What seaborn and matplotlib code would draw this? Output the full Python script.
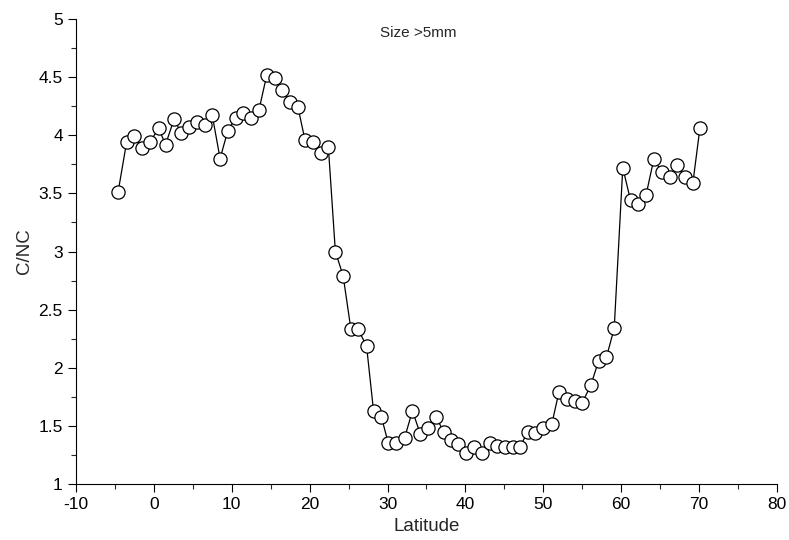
import numpy as np
import pandas as pd
import seaborn as sns
import matplotlib.pyplot as plt
from matplotlib.ticker import MultipleLocator

# latitude and C/NC ratio
latitude = [-4.6, -3.5, -2.5, -1.5, -0.5, 0.6, 1.5, 2.6, 3.5, 4.5,
            5.5, 6.5, 7.5, 8.5, 9.5, 10.5, 11.5, 12.5, 13.5, 14.5,
            15.5, 16.4, 17.5, 18.5, 19.4, 20.4, 21.4, 22.4, 23.3, 24.3,
            25.3, 26.2, 27.3, 28.2, 29.2, 30.1, 31.1, 32.2, 33.2, 34.2,
            35.2, 36.2, 37.2, 38.1, 39.1, 40.1, 41.1, 42.1, 43.1, 44.0,
            45.1, 46.1, 47.0, 48.0, 48.9, 50.0, 51.1, 52.0, 53.1, 54.1,
            55.0, 56.1, 57.1, 58.1, 59.1, 60.2, 61.2, 62.2, 63.2, 64.2,
            65.2, 66.2, 67.2, 68.2, 69.2, 70.1]
cnc = [3.51, 3.94, 3.99, 3.89, 3.94, 4.06, 3.92, 4.14, 4.02, 4.07,
       4.11, 4.09, 4.17, 3.80, 4.04, 4.15, 4.19, 4.15, 4.22, 4.52,
       4.49, 4.39, 4.29, 4.24, 3.96, 3.94, 3.85, 3.90, 3.00, 2.79,
       2.33, 2.33, 2.19, 1.63, 1.58, 1.35, 1.35, 1.40, 1.63, 1.43,
       1.48, 1.58, 1.45, 1.38, 1.34, 1.27, 1.32, 1.27, 1.35, 1.33,
       1.32, 1.32, 1.32, 1.45, 1.44, 1.48, 1.52, 1.79, 1.73, 1.71,
       1.70, 1.85, 2.06, 2.09, 2.34, 3.72, 3.44, 3.41, 3.49, 3.80,
       3.68, 3.64, 3.74, 3.64, 3.59, 4.06]

df = pd.DataFrame({'Latitude': latitude, 'C/NC': cnc})

sns.set_style('ticks')
plt.rcParams['font.family'] = ['Liberation Sans', 'DejaVu Sans']
plt.rcParams['axes.unicode_minus'] = False

fig = plt.figure(figsize=(7.89, 5.40), dpi=100)
ax = fig.add_axes([0.0963, 0.1037, 0.8885, 0.8611])

sns.lineplot(data=df, x='Latitude', y='C/NC', ax=ax, color='black', linewidth=0.9,
             marker='o', markersize=9.5, markerfacecolor='white',
             markeredgecolor='black', markeredgewidth=0.9, sort=False)

ax.set_xlim(-10, 80)
ax.set_ylim(1, 5)
ax.xaxis.set_major_locator(MultipleLocator(10))
ax.xaxis.set_minor_locator(MultipleLocator(5))
ax.yaxis.set_minor_locator(MultipleLocator(0.25))
ax.set_yticks(np.arange(1, 5.01, 0.5))
ax.set_yticklabels(['1', '1.5', '2', '2.5', '3', '3.5', '4', '4.5', '5'])
ax.tick_params(axis='both', which='major', length=6, width=0.8, labelsize=12.5, colors='black')
ax.tick_params(axis='both', which='minor', length=3.5, width=0.8)
ax.set_xlabel('Latitude', fontsize=13.5)
ax.set_ylabel('C/NC', fontsize=13.5)
ax.text(0.488, 0.97, 'Size >5mm', transform=ax.transAxes, ha='center', va='center', fontsize=11)
sns.despine(ax=ax)
for s in ['left', 'bottom']:
    ax.spines[s].set_linewidth(0.8)
    ax.spines[s].set_color('black')

fig.savefig('out.png', dpi=100)
